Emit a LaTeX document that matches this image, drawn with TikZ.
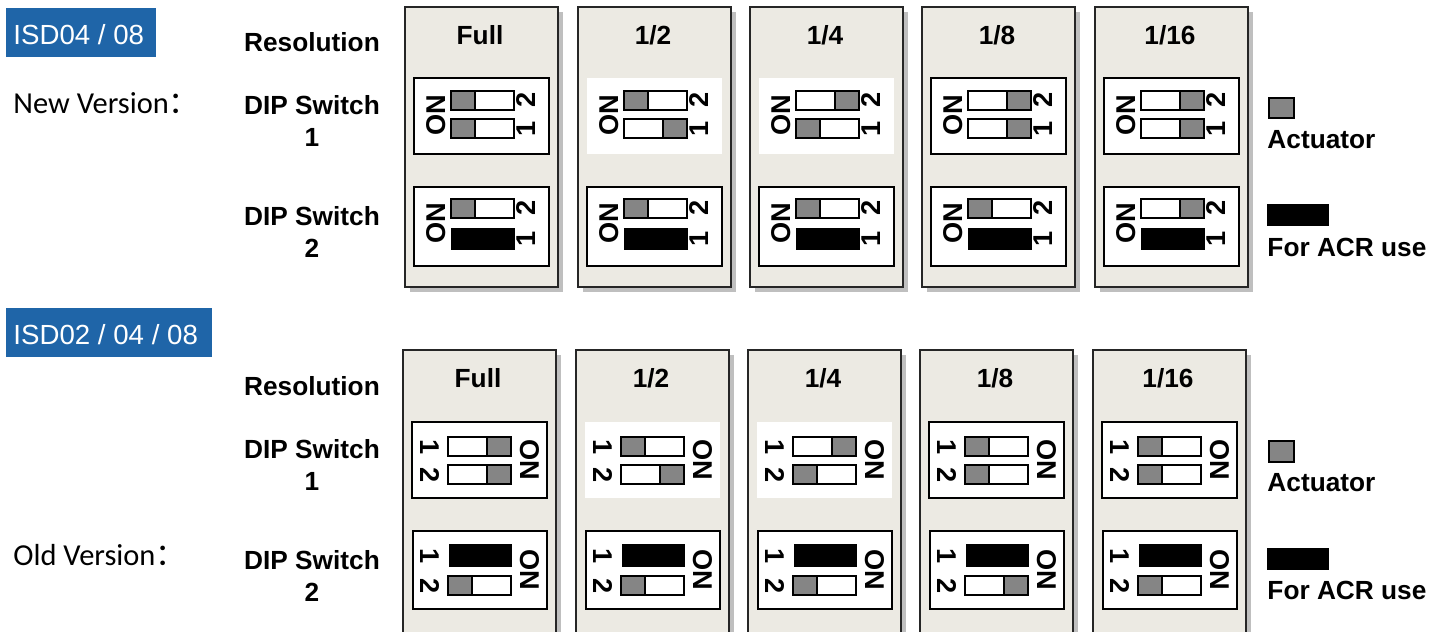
\documentclass[tikz,border=0pt]{standalone}
\usepackage{fontspec}
\setsansfont{Liberation Sans}
\newfontfamily\calibri{Carlito}
\newfontfamily\cjk{Noto Sans CJK SC}
\usetikzlibrary{shadows}

\definecolor{panelbg}{RGB}{236,234,227}
\definecolor{actgray}{RGB}{133,133,133}
\definecolor{tagblue}{RGB}{31,101,168}

\tikzset{
  panelbox/.style={draw=black!85,fill=panelbg,line width=.8pt,
    general shadow={fill=black!25,shadow xshift=2.2pt,shadow yshift=-2.2pt}},
  dipbox/.style={draw=black,fill=white,line width=.6pt},
  dipbare/.style={draw=none,fill=white},
  slot/.style={draw=black,line width=.6pt},
  actuator/.style={fill=actgray,draw=black,line width=.6pt},
  acr/.style={fill=black},
  head/.style={font=\sffamily\bfseries\fontsize{11.2}{13.3}\selectfont,inner sep=0pt},
  swtxt/.style={font=\sffamily\bfseries\fontsize{11.6}{13}\selectfont,inner sep=0pt},
  tagtxt/.style={font=\sffamily\fontsize{11.8}{14}\selectfont,text=white,inner sep=0pt},
  vers/.style={font=\calibri\fontsize{13}{15}\selectfont,inner sep=0pt}
}

% one switch lever: left, top, actuator offset (0 = left, 39 = right)
\newcommand{\dipslot}[3]{%
  \draw[slot,fill=white] (#1,#2) rectangle ++(63,19);
  \filldraw[actuator] (#1+#3,#2) rectangle ++(24,19);}

% new version column: name, x, title, box style, dip1 lever 2, lever 1, dip2 lever 2
\newcommand{\newcol}[7]{%
  \begin{scope}[shift={(#2,7)},name prefix=#1-]
    \draw[panelbox] (0,0) rectangle (153,280);
    \node[head] (head) at (75,28) {#3};
    \path[#4] (9,71) rectangle (144,147);
    \dipslot{46}{84}{#5}
    \dipslot{46}{112}{#6}
    \node[swtxt,rotate=90] (ona) at (31,108) {ON};
    \node[swtxt,rotate=90] (twoa) at (121,93) {2};
    \node[swtxt,rotate=90] (onea) at (121,122) {1};
    \draw[dipbox] (9,180) rectangle (144,259);
    \dipslot{46}{192}{#7}
    \fill[acr] (46,221) rectangle (110,243);
    \node[swtxt,rotate=90] (onb) at (31,216) {ON};
    \node[swtxt,rotate=90] (twob) at (121,201) {2};
    \node[swtxt,rotate=90] (oneb) at (121,232) {1};
  \end{scope}}

% old version column: name, x, title, box style, dip1 lever 1, lever 2, dip2 lever 2
\newcommand{\oldcol}[7]{%
  \begin{scope}[shift={(#2,350)},name prefix=#1-]
    \draw[panelbox] (0,0) rectangle (153,300);
    \node[head] (head) at (75,28) {#3};
    \path[#4] (9,72) rectangle (144,148);
    \dipslot{45}{87}{#5}
    \dipslot{45}{115}{#6}
    \node[swtxt,rotate=-90] (onea) at (27,97) {1};
    \node[swtxt,rotate=-90] (twoa) at (27,125) {2};
    \node[swtxt,rotate=-90] (ona) at (127,110) {ON};
    \draw[dipbox] (10,181) rectangle (144,259);
    \fill[acr] (46,194) rectangle (109,217);
    \dipslot{45}{226}{#7}
    \node[swtxt,rotate=-90] (oneb) at (27,206) {1};
    \node[swtxt,rotate=-90] (twob) at (27,236) {2};
    \node[swtxt,rotate=-90] (onb) at (127,220) {ON};
  \end{scope}}

\begin{document}
\begin{tikzpicture}[x=0.015cm,y=-0.015cm]
\useasboundingbox (0,0) rectangle (1448,631);
\clip (0,0) rectangle (1448,631);

% new version
\fill[tagblue] (6,8) rectangle (156,57);
\node[tagtxt,anchor=base west] (tagnew) at (13,44) {ISD04 / 08};
\node[vers,anchor=base west] (vernew) at (13,113) {New Version{\cjk ：}};
\node[head] (resnew) at (312,42) {Resolution};
\node[head,align=center] (dipnewa) at (312,121) {DIP Switch\\1};
\node[head,align=center] (dipnewb) at (312,232) {DIP Switch\\2};

\newcol{nfull}{405}{Full}{dipbox}{0}{0}{0}
\newcol{nhalf}{578}{1/2}{dipbare}{0}{39}{0}
\newcol{nquarter}{750}{1/4}{dipbare}{39}{0}{0}
\newcol{neighth}{922}{1/8}{dipbox}{39}{39}{0}
\newcol{nsixteenth}{1095}{1/16}{dipbox}{39}{39}{39}

\filldraw[actuator] (1269,98) rectangle (1294,118);
\node[head,anchor=west] (actnew) at (1267,140) {Actuator};
\fill[acr] (1267,204) rectangle (1329,226);
\node[head,anchor=west] (acrnew) at (1267,247) {For ACR use};

% old version
\fill[tagblue] (6,308) rectangle (212,357);
\node[tagtxt,anchor=base west] (tagold) at (13,344) {ISD02 / 04 / 08};
\node[vers,anchor=base west] (verold) at (13,565) {Old Version{\cjk ：}};
\node[head] (resold) at (312,386) {Resolution};
\node[head,align=center] (dipolda) at (312,465) {DIP Switch\\1};
\node[head,align=center] (dipoldb) at (312,576) {DIP Switch\\2};

\oldcol{ofull}{403}{Full}{dipbox}{39}{39}{0}
\oldcol{ohalf}{576}{1/2}{dipbare}{0}{39}{0}
\oldcol{oquarter}{748}{1/4}{dipbare}{39}{0}{0}
\oldcol{oeighth}{920}{1/8}{dipbox}{0}{0}{39}
\oldcol{osixteenth}{1093}{1/16}{dipbox}{0}{0}{0}

\filldraw[actuator] (1269,441) rectangle (1294,462);
\node[head,anchor=west] (actold) at (1267,483) {Actuator};
\fill[acr] (1267,548) rectangle (1329,570);
\node[head,anchor=west] (acrold) at (1267,590) {For ACR use};
\end{tikzpicture}
\end{document}
